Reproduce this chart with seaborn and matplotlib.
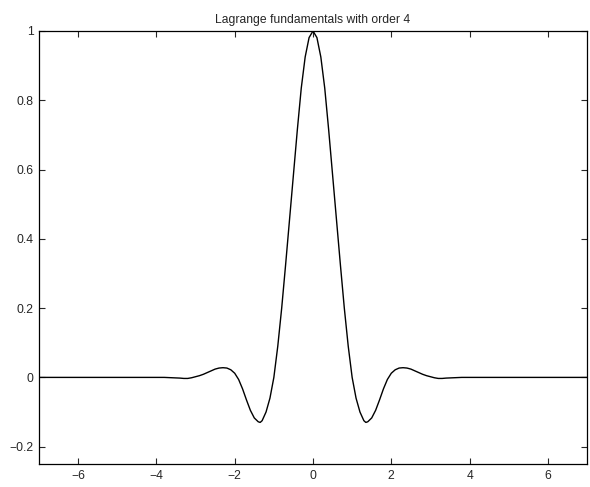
import numpy as np
import matplotlib
matplotlib.use("Agg")
import matplotlib.pyplot as plt
import seaborn as sns

# values for x >= 0; the curve is symmetric about x = 0
x_half = [0.0, 0.1, 0.2, 0.3, 0.4, 0.5, 0.6, 0.7, 0.8, 0.9, 1.0, 1.1, 1.2, 1.3,
          1.35, 1.4, 1.5, 1.6, 1.7, 1.8, 1.9, 2.0, 2.1, 2.2, 2.3, 2.4, 2.5, 2.6,
          2.7, 2.8, 2.9, 3.0, 3.1, 3.2, 3.3, 3.4, 3.6, 3.8, 4.0, 5.0, 6.0, 7.0]
y_half = [1.0, 0.981, 0.925, 0.835, 0.715, 0.585, 0.455, 0.325, 0.20, 0.09,
          0.0, -0.06, -0.10, -0.125, -0.13, -0.128, -0.117, -0.095, -0.065,
          -0.033, -0.006, 0.012, 0.022, 0.027, 0.028, 0.027, 0.024, 0.019,
          0.014, 0.009, 0.005, 0.002, -0.001, -0.003, -0.003, -0.002, -0.001,
          0.0, 0.0, 0.0, 0.0, 0.0]

x_full = [-v for v in x_half[:0:-1]] + x_half
y_full = y_half[:0:-1] + y_half

xticks = [-6, -4, -2, 0, 2, 4, 6]
yticks = [-0.2, 0, 0.2, 0.4, 0.6, 0.8, 1]
ytick_labels = ["\u22120.2", "0", "0.2", "0.4", "0.6", "0.8", "1"]
xtick_labels = ["\u22126", "\u22124", "\u22122", "0", "2", "4", "6"]

sns.set_style("ticks")
plt.rcParams["font.family"] = ["Liberation Sans", "DejaVu Sans"]

fig = plt.figure(figsize=(5.9, 4.87), dpi=100)
ax = fig.add_axes([39 / 590, 23 / 487, 548 / 590, 433 / 487])

sns.lineplot(x=x_full, y=y_full, color="black", linewidth=1.0, ax=ax)

ax.set_xlim(-7, 7)
ax.set_ylim(-0.25, 1)
ax.set_xticks(xticks)
ax.set_xticklabels(xtick_labels)
ax.set_yticks(yticks)
ax.set_yticklabels(ytick_labels)
ax.tick_params(direction="in", length=4, width=0.8, labelsize=8.7,
               top=True, right=True, pad=4)
for s in ax.spines.values():
    s.set_visible(True)
    s.set_linewidth(0.9)
    s.set_color("black")
ax.set_title("Lagrange fundamentals with order 4", fontsize=8.7, pad=6)

fig.savefig("out.png", dpi=100)
